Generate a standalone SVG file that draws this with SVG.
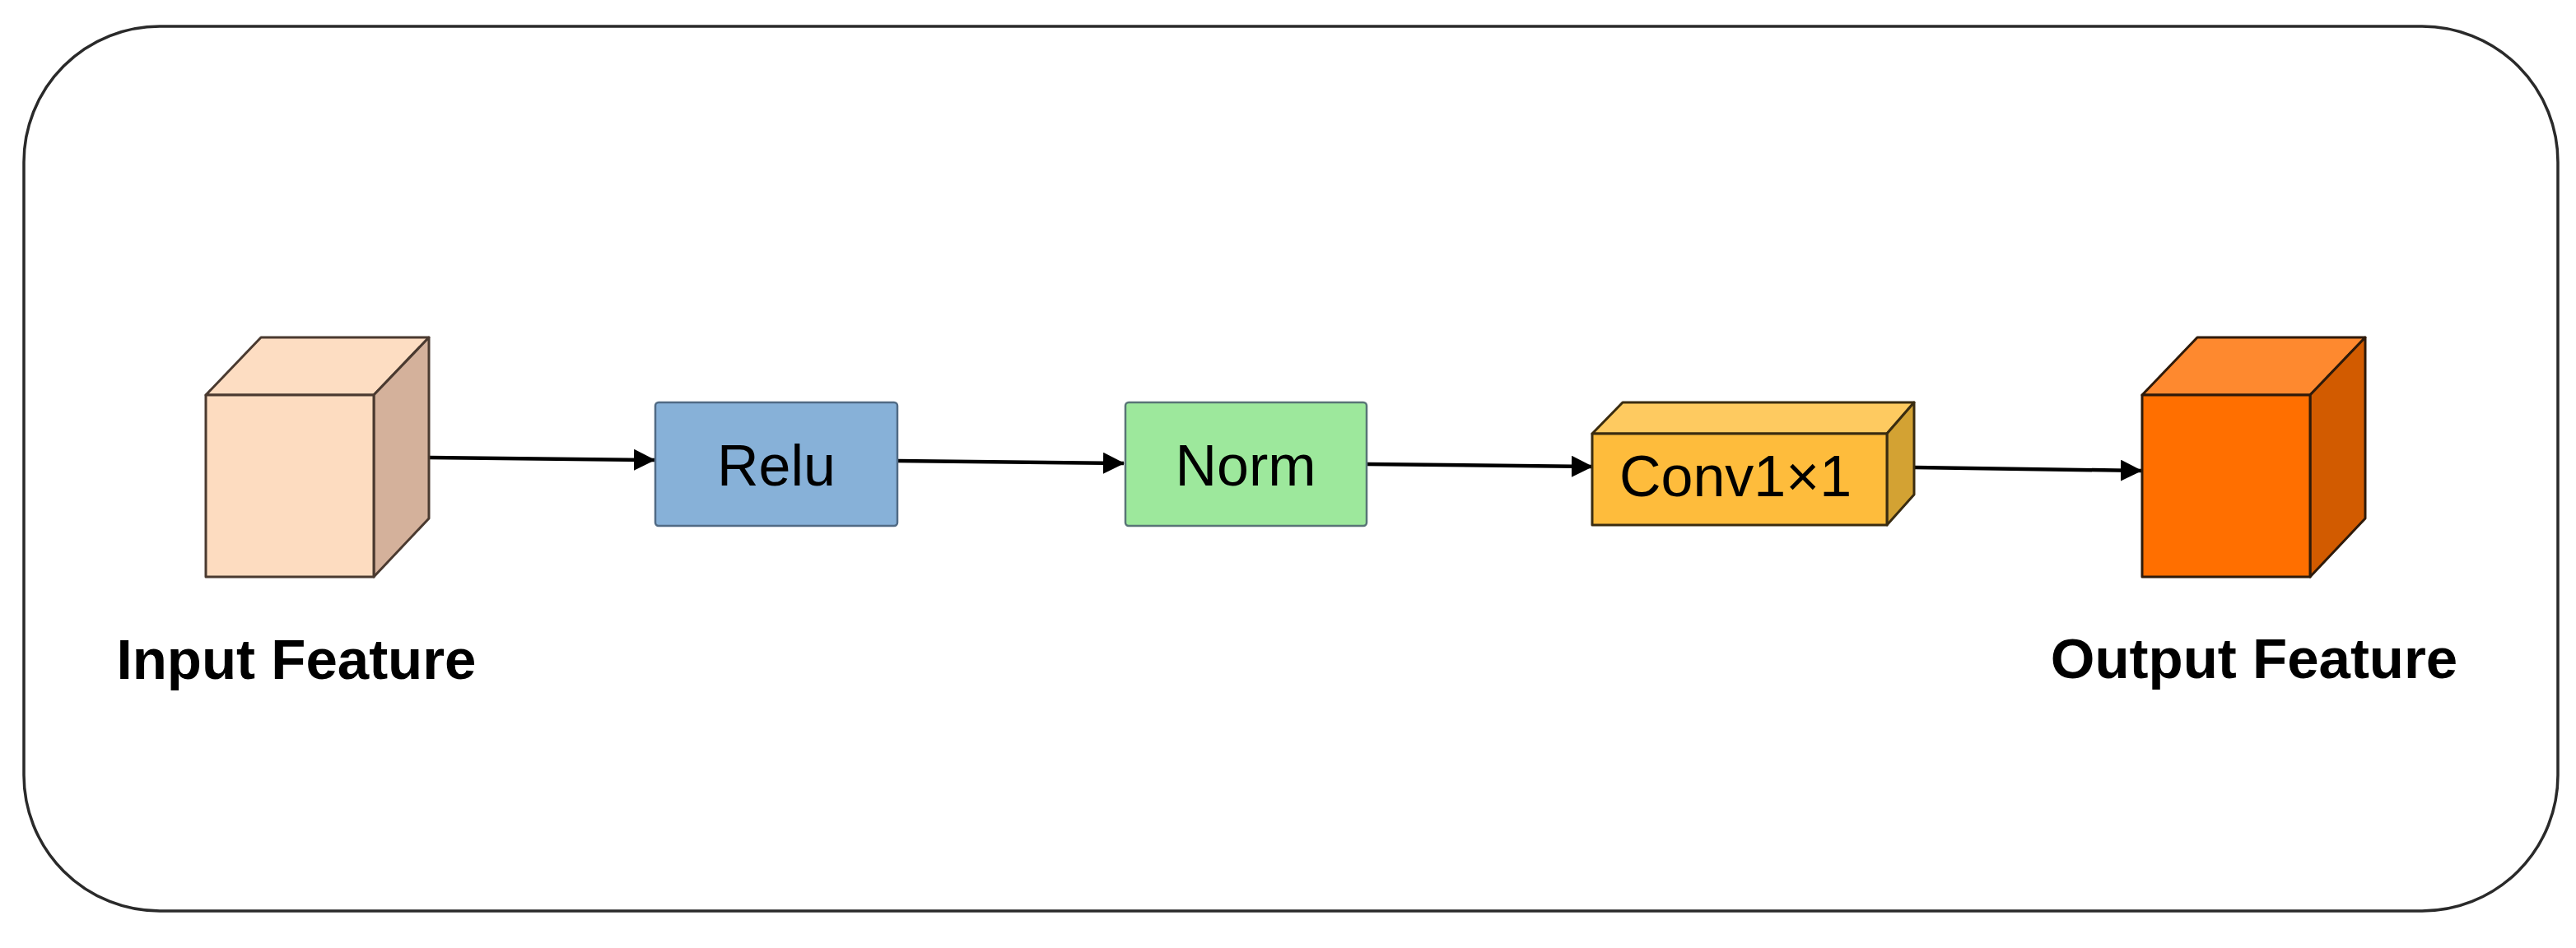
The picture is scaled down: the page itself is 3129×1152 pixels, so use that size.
<svg xmlns="http://www.w3.org/2000/svg" width="3129" height="1152" viewBox="0 0 3129 1152">
<defs>
<style>
.frame{fill:#ffffff;stroke:#2a2a2a;stroke-width:3.5}
.edge{fill:none;stroke:#000;stroke-width:4.5}
.lbl{font-family:"Liberation Sans",Arial,sans-serif;font-size:70px;fill:#000;text-anchor:middle}
.cap{font-family:"Liberation Sans",Arial,sans-serif;font-size:69px;font-weight:bold;fill:#000;text-anchor:middle}
.cube{stroke-width:3;stroke-linejoin:round}
</style>
<marker id="arr" markerUnits="userSpaceOnUse" markerWidth="26" markerHeight="26" viewBox="0 0 26 26" refX="25" refY="13" orient="auto">
<path d="M0,0 L26,13 L0,26 Z" fill="#000"/>
</marker>
</defs>
<rect class="frame" x="29" y="32" width="3078" height="1075" rx="165" ry="165"/>
<g id="connectors">
<line class="edge" x1="521" y1="556" x2="795" y2="559" marker-end="url(#arr)"/>
<line class="edge" x1="1090" y1="560" x2="1365" y2="563" marker-end="url(#arr)"/>
<line class="edge" x1="1660" y1="564" x2="1934" y2="567" marker-end="url(#arr)"/>
<line class="edge" x1="2326" y1="568" x2="2601" y2="572" marker-end="url(#arr)"/>
</g>
<g id="input-feature">
<g class="cube" stroke="#4a3a30">
<polygon points="250,480 317,410 521,410 454,480" fill="#FDDDC2"/>
<polygon points="454,480 521,410 521,630 454,701" fill="#D4B19B"/>
<rect x="250" y="480" width="204" height="221" fill="#FDDCC0"/>
</g>
<text class="cap" x="360" y="825">Input Feature</text>
</g>
<g id="relu">
<rect x="796" y="489" width="294" height="150" rx="4" fill="#87B1D8" stroke="#506a84" stroke-width="2.5"/>
<text class="lbl" x="943" y="590">Relu</text>
</g>
<g id="norm">
<rect x="1367" y="489" width="293" height="150" rx="4" fill="#9DE89C" stroke="#587476" stroke-width="2.5"/>
<text class="lbl" x="1513" y="590">Norm</text>
</g>
<g id="conv">
<g class="cube" stroke="#3a2c10">
<polygon points="1934,527 1971,489 2325,489 2292,527" fill="#FECA60"/>
<polygon points="2292,527 2325,489 2325,601 2292,638" fill="#D3A233"/>
<rect x="1934" y="527" width="358" height="111" fill="#FEBC3C"/>
</g>
<text class="lbl" x="2108" y="603">Conv1×1</text>
</g>
<g id="output-feature">
<g class="cube" stroke="#2e1a0a">
<polygon points="2602,480 2669,410 2873,410 2806,480" fill="#FE892F"/>
<polygon points="2806,480 2873,410 2873,630 2806,701" fill="#D25B00"/>
<rect x="2602" y="480" width="204" height="221" fill="#FF6F00"/>
</g>
<text class="cap" x="2738" y="824">Output Feature</text>
</g>
</svg>
